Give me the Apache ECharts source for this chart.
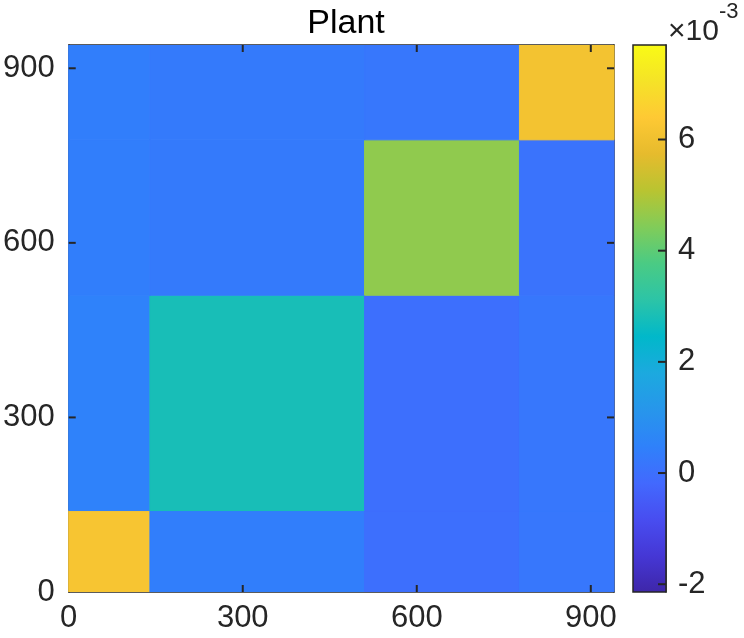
<!DOCTYPE html>
<html>
<head>
<meta charset="utf-8">
<style>
  html, body { margin: 0; padding: 0; background: #fff; }
  #chart-container { width: 744px; height: 638px; }
</style>
<script src="https://cdn.jsdelivr.net/npm/echarts@6/dist/echarts.min.js"></script>
</head>
<body>
<div id="chart-container"></div>
<script>
// block edges along both axes (node index)
var blockEdges = [0, 140, 510, 777, 940];
// mean value of each block, rows = y blocks from bottom, cols = x blocks from left
var blockRow0 = [6.2e-3, 0.4e-3, 0.0e-3, 0.2e-3];
var blockRow1 = [0.5e-3, 2.8e-3, 0.0e-3, 0.2e-3];
var blockRow2 = [0.4e-3, 0.3e-3, 4.6e-3, 0.1e-3];
var blockRow3 = [0.4e-3, 0.3e-3, 0.2e-3, 6.1e-3];
var blockRows = [blockRow0, blockRow1, blockRow2, blockRow3];
var axisTicks = [300, 600, 900];
var colorTicks = [-2e-3, 0, 2e-3, 4e-3, 6e-3];
var colorMin = -2.14e-3;
var colorMax = 7.7e-3;

// parula
var parula = ['#3e26a8', '#4537d5', '#484df0', '#4269fe', '#2f81fa', '#2796eb', '#1ca9df', '#01b8ca',
  '#2cc4a7', '#4acb84', '#81cc59', '#b9c431', '#e6bb2d', '#fec934', '#f5e327', '#f9fb15'];

var dom = document.getElementById('chart-container');
var myChart = echarts.init(dom, null, { renderer: 'canvas' });

var cells = [];
blockRows.forEach(function (row, j) {
  row.forEach(function (v, i) {
    cells.push([blockEdges[i], blockEdges[i + 1], blockEdges[j], blockEdges[j + 1], v]);
  });
});

var font = 'Liberation Sans, Arial, Helvetica, sans-serif';
var ink = '#262626';

function frameAxis(extra) {
  return Object.assign({
    type: 'value',
    min: 0,
    max: 940,
    interval: 300,
    axisLine: { show: true, onZero: false, lineStyle: { color: ink, width: 1.5 } },
    axisTick: { show: false },
    axisLabel: { show: false },
    splitLine: { show: false }
  }, extra);
}

var labelStyle = { show: true, showMaxLabel: false, color: ink, fontSize: 31, fontFamily: font };

function tickMark(dx, dy) {
  return function (params, api) {
    var p = api.coord([api.value(0), api.value(1)]);
    return {
      type: 'line',
      shape: { x1: p[0], y1: p[1], x2: p[0] + dx, y2: p[1] + dy },
      style: { stroke: ink, lineWidth: 2 }
    };
  };
}

function tickSeries(xi, yi, data, dx, dy) {
  return {
    type: 'custom',
    xAxisIndex: xi,
    yAxisIndex: yi,
    z: 5,
    silent: true,
    data: data,
    encode: { x: 0, y: 1 },
    renderItem: tickMark(dx, dy)
  };
}

var option = {
  animation: false,
  title: {
    text: 'Plant',
    left: 341,
    top: 2,
    textAlign: 'center',
    textStyle: { color: '#000', fontSize: 34, fontWeight: 'normal', fontFamily: font }
  },
  grid: [
    { left: 68, top: 45, width: 546, height: 547 },
    { left: 633, top: 45, width: 33, height: 547 }
  ],
  xAxis: [
    frameAxis({ gridIndex: 0, position: 'bottom', axisLabel: Object.assign({ margin: 11 }, labelStyle) }),
    frameAxis({ gridIndex: 0, position: 'top' }),
    { type: 'value', gridIndex: 1, min: 0, max: 1, show: false }
  ],
  yAxis: [
    frameAxis({ gridIndex: 0, position: 'left', axisLabel: Object.assign({ margin: 14 }, labelStyle) }),
    frameAxis({ gridIndex: 0, position: 'right' }),
    {
      type: 'value',
      gridIndex: 1,
      position: 'right',
      min: colorMin,
      max: colorMax,
      axisLine: { show: true, onZero: false, lineStyle: { color: ink, width: 1.5 } },
      axisTick: { show: false },
      axisLabel: {
        show: true,
        customValues: colorTicks,
        margin: 12,
        color: ink,
        fontSize: 31,
        fontFamily: font,
        formatter: function (v) { return String(Math.round(v * 1000)); }
      },
      splitLine: { show: false }
    }
  ],
  visualMap: {
    show: false,
    type: 'continuous',
    seriesIndex: 0,
    dimension: 4,
    min: colorMin,
    max: colorMax,
    inRange: { color: parula }
  },
  graphic: [
    {
      type: 'text',
      left: 668,
      top: 1,
      style: {
        text: '{a|×10}{b|-3}',
        rich: {
          a: { fontSize: 30, fontFamily: font, fill: ink, verticalAlign: 'bottom', padding: [16, 0, 0, 0] },
          b: { fontSize: 22, fontFamily: font, fill: ink, verticalAlign: 'top' }
        }
      }
    }
  ],
  series: [
    {
      type: 'custom',
      xAxisIndex: 0,
      yAxisIndex: 0,
      clip: true,
      z: 1,
      data: cells,
      encode: { x: [0, 1], y: [2, 3] },
      renderItem: function (params, api) {
        var p0 = api.coord([api.value(0), api.value(3)]);
        var p1 = api.coord([api.value(1), api.value(2)]);
        var c = api.visual('color');
        return {
          type: 'rect',
          shape: { x: p0[0], y: p0[1], width: p1[0] - p0[0], height: p1[1] - p0[1] },
          style: { fill: c, stroke: c, lineWidth: 1 }
        };
      }
    },
    {
      // colour bar
      type: 'custom',
      xAxisIndex: 2,
      yAxisIndex: 2,
      z: 1,
      silent: true,
      data: [[0, 1, colorMin, colorMax]],
      encode: { x: [0, 1], y: [2, 3] },
      renderItem: function (params, api) {
        var p0 = api.coord([api.value(0), api.value(3)]);
        var p1 = api.coord([api.value(1), api.value(2)]);
        return {
          type: 'rect',
          shape: { x: p0[0], y: p0[1], width: p1[0] - p0[0], height: p1[1] - p0[1] },
          style: {
            fill: {
              type: 'linear', x: 0, y: 1, x2: 0, y2: 0,
              colorStops: parula.map(function (c, k) {
                return { offset: k / (parula.length - 1), color: c };
              })
            },
            stroke: ink,
            lineWidth: 1.5
          }
        };
      }
    },
    {
      // colour bar ticks as small filled bars on the right edge, pointing inward
      type: 'custom',
      xAxisIndex: 2,
      yAxisIndex: 2,
      z: 6,
      silent: true,
      data: colorTicks.map(function (v) { return [1, v]; }),
      encode: { x: 0, y: 1 },
      renderItem: function (params, api) {
        var p = api.coord([api.value(0), api.value(1)]);
        return {
          type: 'rect',
          shape: { x: p[0] - 8, y: p[1] - 1, width: 8, height: 2 },
          style: { fill: ink }
        };
      }
    },
    // inward tick marks on all four sides of the plot box
    tickSeries(0, 0, axisTicks.map(function (v) { return [v, 0]; }), 0, -7),
    tickSeries(0, 0, axisTicks.map(function (v) { return [v, 940]; }), 0, 7),
    tickSeries(0, 0, axisTicks.map(function (v) { return [0, v]; }), 7, 0),
    tickSeries(0, 0, axisTicks.map(function (v) { return [940, v]; }), -7, 0)
  ]
};

myChart.setOption(option);
window.addEventListener('resize', myChart.resize);
</script>
</body>
</html>
